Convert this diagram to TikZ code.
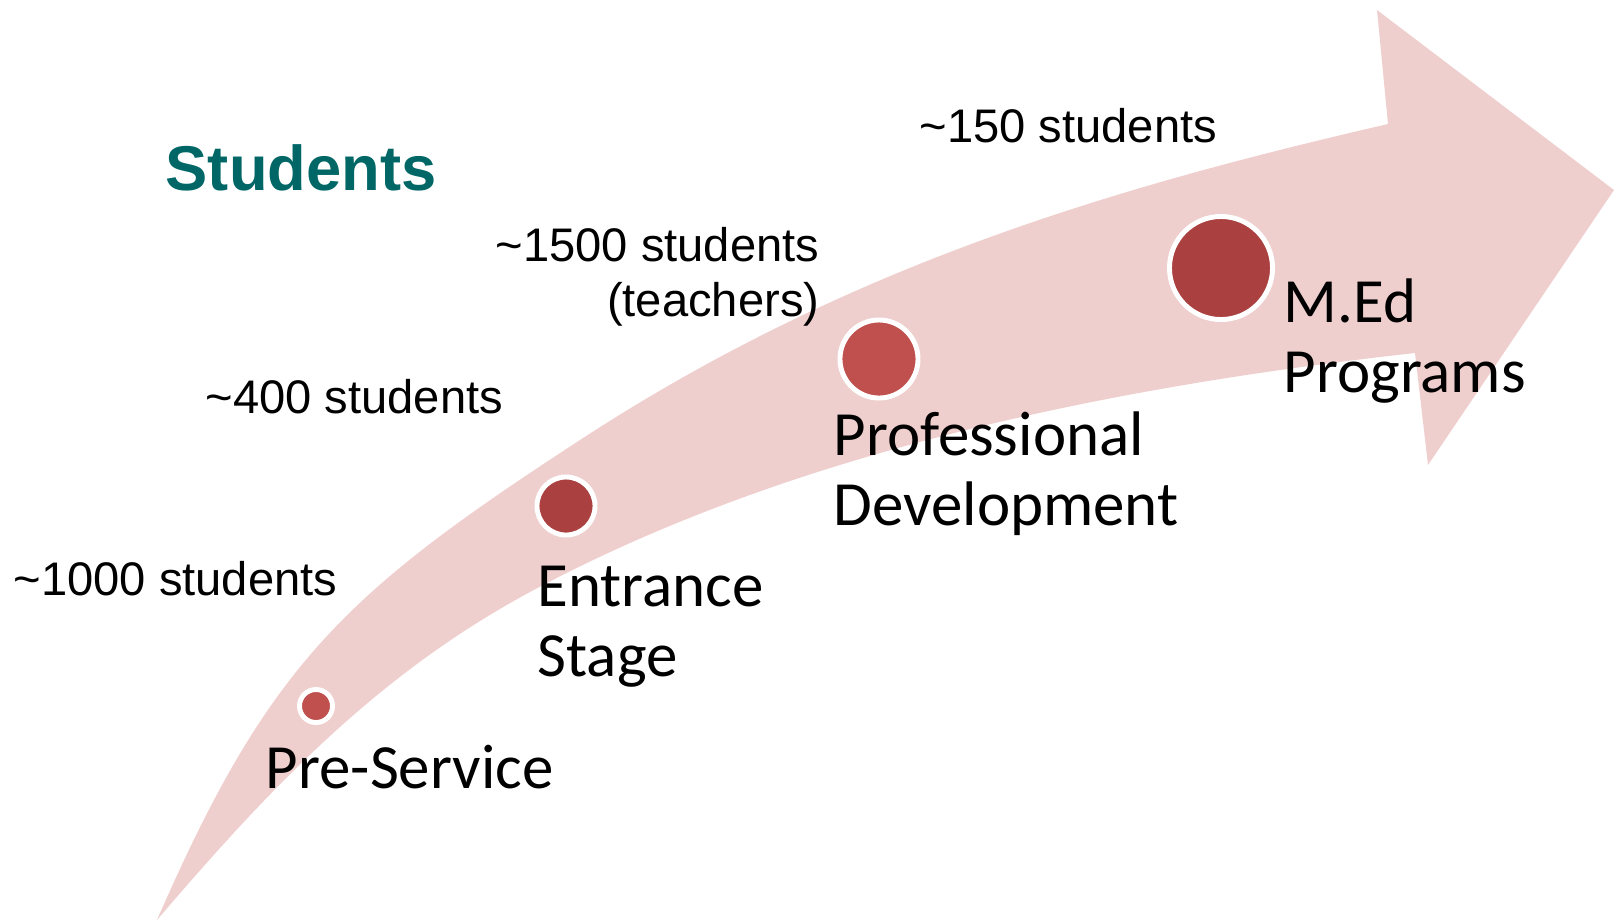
\documentclass[tikz,border=0pt]{standalone}
\usepackage{fontspec}
\setmainfont{Carlito}
\newfontfamily\countfont{Liberation Sans}
\definecolor{arrowpink}{RGB}{239,207,206}
\definecolor{dotlight}{RGB}{192,80,77}
\definecolor{dotdark}{RGB}{170,64,63}
\definecolor{headteal}{RGB}{0,102,102}

\begin{document}
\begin{tikzpicture}[x=0.01cm,y=-0.01cm,
	dot/.style={circle,draw=white,line width=1.4pt,inner sep=0pt},
	stage/.style={anchor=base west,inner sep=0pt,align=left,font=\fontsize{17.9}{19.9}\selectfont},
	count/.style={anchor=base west,inner sep=0pt,font=\countfont\fontsize{13.4}{15.6}\selectfont}]
	\useasboundingbox (0,0) rectangle (1614,923);

	\fill[arrowpink] (157,920) .. controls (269,663) and (345,593) .. (580,440)
		.. controls (848,265) and (1115,187) .. (1388,124)
		-- (1377,10) -- (1614,190) -- (1428,465) -- (1415,353)
		.. controls (1117,386) and (794,450) .. (530,592)
		.. controls (380,673) and (274,783) .. (157,920) -- cycle;

	\node[dot,fill=dotlight,minimum size=0.33cm] (pre) at (316,706) {};
	\node[dot,fill=dotdark,minimum size=0.58cm] (entrance) at (566,506) {};
	\node[dot,fill=dotlight,minimum size=0.78cm] (prof) at (879,359) {};
	\node[dot,fill=dotdark,minimum size=1.03cm] (med) at (1221,268) {};

	\node[stage] (prelabel) at (265,788) {Pre-Service};
	\node[stage] (entrancelabel) at (537,676) {Entrance\\Stage};
	\node[stage] (proflabel) at (833,525) {Professional\\Development};
	\node[stage] (medlabel) at (1283,392) {M.Ed\\Programs};

	\node[anchor=base west,inner sep=0pt,text=headteal,font=\countfont\bfseries\fontsize{18}{20}\selectfont] (title) at (165,190) {Students};

	\node[count] (count1000) at (13,595) {\textasciitilde1000 students};
	\node[count] (count400) at (205,413) {\textasciitilde400 students};
	\node[count,anchor=base east,align=right] (count1500) at (820,316) {\textasciitilde1500 students\\(teachers)};
	\node[count] (count150) at (919,142) {\textasciitilde150 students};
\end{tikzpicture}
\end{document}
